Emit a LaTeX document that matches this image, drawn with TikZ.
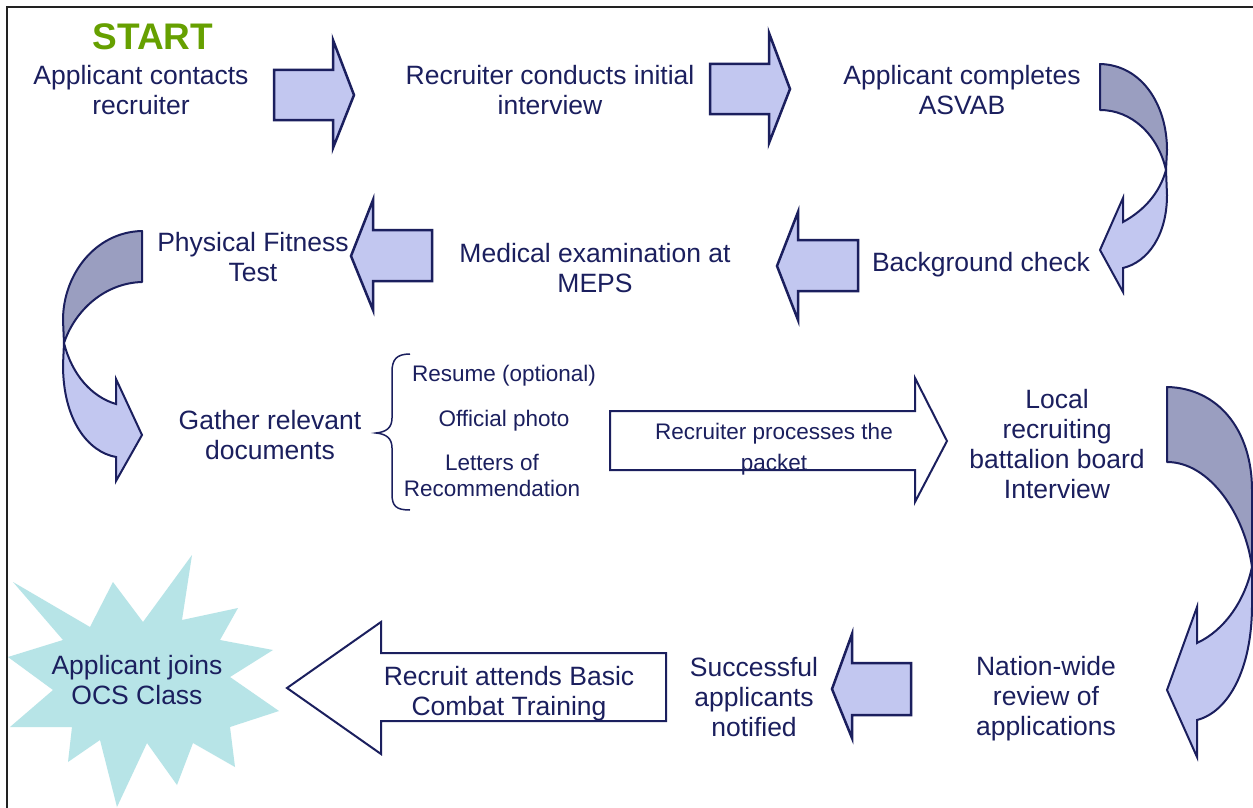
\documentclass[tikz,border=0pt]{standalone}
\usepackage{fontspec}
\setmainfont{Liberation Sans}
\usetikzlibrary{positioning}
\definecolor{navy}{HTML}{1B1F5E}
\definecolor{arrlight}{HTML}{C2C7F0}
\definecolor{arrdark}{HTML}{9A9EC0}
\definecolor{startgreen}{HTML}{66A000}
\definecolor{burst}{HTML}{B7E4E7}
\definecolor{framegray}{HTML}{222222}

\begin{document}
\begin{tikzpicture}[x=1pt, y=-1pt,
  txt/.style={font=\fontsize{26.5}{30}\selectfont, text=navy, align=center, inner sep=0pt},
  smalltxt/.style={font=\fontsize{22.5}{26}\selectfont, text=navy, align=center, inner sep=0pt},
  blockarr/.style={fill=arrlight, draw=navy, line width=2.5pt, line join=miter},
  hollowarr/.style={fill=white, draw=navy, line width=2pt, line join=miter},
  twistback/.style={fill=arrdark, draw=navy, line width=2pt, line join=round},
  twistfront/.style={fill=arrlight, draw=navy, line width=2pt, line join=miter},
]

% Canvas and frame
\useasboundingbox (0,0) rectangle (1253,808);
\fill[white] (0,0) rectangle (1253,808);
\draw[framegray, line width=2pt] (7,808) -- (7,7) -- (1253,7);

% === Row 1 ===
\node[font=\fontsize{37}{40}\selectfont\bfseries, text=startgreen, inner sep=0pt] (start) at (153,37) {START};
\node[txt] (contact) at (141,90) {Applicant contacts\\recruiter};
\node[txt] (interview) at (550,90) {Recruiter conducts initial\\interview};
\node[txt] (asvab) at (962,90) {Applicant completes\\ASVAB};

\draw[blockarr] (274,70) -- (333,70) -- (333,40) -- (354,95) -- (333,148) -- (333,120) -- (274,120) -- cycle;
\draw[blockarr] (710,64) -- (769,64) -- (769,33) -- (790,89) -- (769,143) -- (769,114) -- (710,114) -- cycle;

% twisted arrow, top right
\draw[twistback] (1100,64) .. controls (1142,65) and (1167,105) .. (1167,150)
  -- (1166,170) .. controls (1158,135) and (1132,110) .. (1100,110) -- cycle;
\draw[twistfront] (1166,170) -- (1167,195) .. controls (1167,235) and (1148,262) .. (1123,268)
  -- (1123,292) -- (1100,250) -- (1123,198) -- (1123,222)
  .. controls (1145,210) and (1160,192) .. (1166,170) -- cycle;

% === Row 2 ===
\node[txt] (background) at (981,265) {Background check};
\node[txt] (medical) at (595,268) {Medical examination at\\MEPS};
\node[txt] (fitness) at (253,257) {Physical Fitness\\Test};

\draw[blockarr] (858,240) -- (798,240) -- (798,212) -- (777,266) -- (798,320) -- (798,291) -- (858,291) -- cycle;
\draw[blockarr] (432,230) -- (373,230) -- (373,200) -- (351,256) -- (373,310) -- (373,281) -- (432,281) -- cycle;

% twisted arrow, left
\draw[twistback] (142,231) .. controls (95,232) and (63,275) .. (63,320)
  -- (64,343) .. controls (75,310) and (105,283) .. (142,282) -- cycle;
\draw[twistfront] (64,343) -- (63,365) .. controls (63,420) and (88,452) .. (116,457)
  -- (116,481) -- (142,435) -- (116,379) -- (116,404)
  .. controls (92,397) and (72,375) .. (64,343) -- cycle;

% === Row 3 ===
\node[txt] (gather) at (270,435) {Gather relevant\\documents};
\draw[navy, line width=1.5pt] (410,354) .. controls (396,354) and (392,360) .. (392,372)
  -- (392,418) .. controls (392,428) and (386,432) .. (376,433)
  .. controls (386,434) and (392,438) .. (392,448)
  -- (392,494) .. controls (392,506) and (396,510) .. (410,510);
\node[smalltxt] (resume) at (504,376) {Resume (optional)};
\node[smalltxt] (photo) at (504,421) {Official photo};
\node[smalltxt] (letters) at (492,475) {Letters of\\Recommendation};

\draw[hollowarr] (610,411) -- (915,411) -- (915,378) -- (947,441) -- (915,502) -- (915,470) -- (610,470) -- cycle;
\node[smalltxt, font=\fontsize{22.5}{31}\selectfont] (packet) at (774,449) {Recruiter processes the\\packet};

\node[txt] (local) at (1057,444) {Local\\recruiting\\battalion board\\Interview};

% twisted arrow, right
\draw[twistback] (1167,387) .. controls (1218,388) and (1252,430) .. (1252,490)
  -- (1252,567) .. controls (1245,515) and (1210,462) .. (1167,462) -- cycle;
\draw[twistfront] (1252,567) -- (1252,605) .. controls (1252,670) and (1228,712) .. (1197,720)
  -- (1197,757) -- (1167,690) -- (1197,607) -- (1197,643)
  .. controls (1225,630) and (1245,600) .. (1252,567) -- cycle;

% === Row 4 ===
\node[txt] (nation) at (1046,699) {Nation-wide\\review of\\applications};
\node[txt] (notified) at (754,697) {Successful\\applicants\\notified};
\draw[blockarr] (911,663) -- (852,663) -- (852,634) -- (832,689) -- (852,738) -- (852,715) -- (911,715) -- cycle;

\draw[hollowarr] (666,653) -- (381,653) -- (381,622) -- (287,688) -- (381,754) -- (381,721) -- (666,721) -- cycle;
\node[txt] (basic) at (509,694) {Recruit attends Basic\\Combat Training};

% starburst
\fill[burst] (13,582) -- (90,627) -- (113,582) -- (143,622) -- (192,555) -- (182,620)
  -- (238,608) -- (220,640) -- (273,650) -- (230,677) -- (279,711) -- (230,727)
  -- (235,767) -- (193,743) -- (177,785) -- (147,743) -- (117,807) -- (100,740)
  -- (68,762) -- (72,727) -- (10,727) -- (53,690) -- (8,657) -- (63,640) -- cycle;
\node[txt] (ocs) at (137,680) {Applicant joins\\OCS Class};

\end{tikzpicture}
\end{document}
